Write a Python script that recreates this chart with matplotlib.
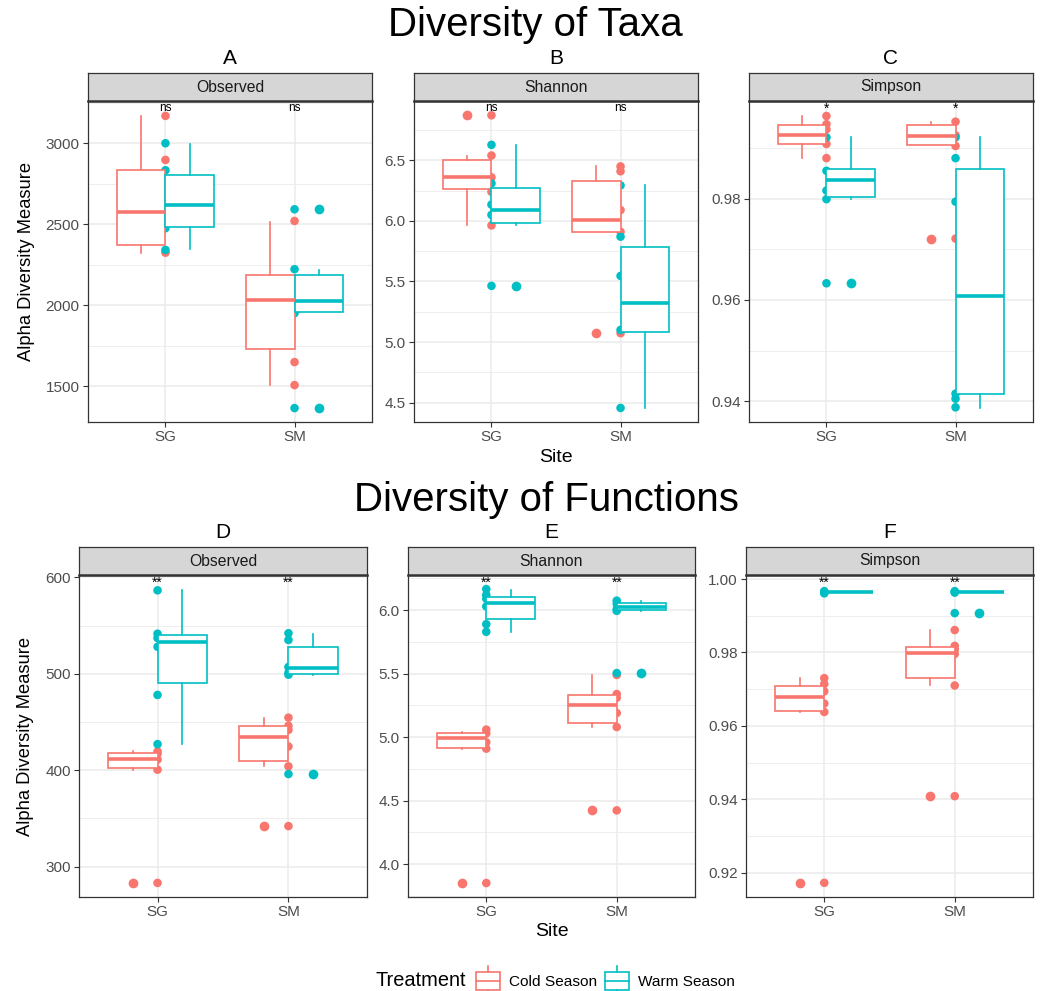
import matplotlib
matplotlib.use("Agg")
import matplotlib.pyplot as plt
from matplotlib.patches import Rectangle, Patch
from matplotlib.lines import Line2D
from matplotlib.legend_handler import HandlerBase
from matplotlib.ticker import MultipleLocator, FormatStrFormatter
import matplotlib.transforms as mtransforms

plt.rcParams['font.family'] = ['Liberation Sans', 'DejaVu Sans']

sites = ["SG", "SM"]
treatments = ["Cold Season", "Warm Season"]
colors = ["#F8766D", "#00BFC4"]

# ---- box stats per site: (q1, median, q3, whisker_low, whisker_high) ----
# Panel A: Observed (taxa)
a_cold_stats = [(2374, 2578, 2833, 2324, 3169), (1731, 2034, 2186, 1506, 2516)]
a_warm_stats = [(2485, 2617, 2802, 2345, 2996), (1955, 2023, 2186, 1955, 2217)]
a_cold_fliers = [[], []]
a_warm_fliers = [[], [2592, 1364]]
a_cold_points = [[3169, 2897, 2324], [2520, 1648, 1506]]
a_warm_points = [[3000, 2833, 2475, 2341], [2592, 2222, 1950, 1364]]

# Panel B: Shannon (taxa)
b_cold_stats = [(6.263, 6.36, 6.505, 5.963, 6.54), (5.908, 6.004, 6.329, 5.908, 6.45)]
b_warm_stats = [(5.985, 6.092, 6.274, 5.97, 6.624), (5.079, 5.324, 5.786, 4.456, 6.293)]
b_cold_fliers = [[6.872], [5.073]]
b_warm_fliers = [[5.464], []]
b_cold_points = [[6.872, 6.54, 6.36, 6.24, 5.963], [6.45, 6.41, 6.09, 5.91, 5.073]]
b_warm_points = [[6.628, 6.31, 6.135, 6.05, 5.464], [6.293, 5.87, 5.546, 5.10, 4.456]]

# Panel C: Simpson (taxa)
c_cold_stats = [(0.99086, 0.9925, 0.99461, 0.9880, 0.99632), (0.99059, 0.99243, 0.99447, 0.9905, 0.9952)]
c_warm_stats = [(0.98026, 0.98362, 0.98579, 0.9799, 0.99217), (0.94151, 0.96079, 0.98586, 0.93875, 0.99217)]
c_cold_fliers = [[], [0.97211]]
c_warm_fliers = [[0.96329], []]
c_cold_points = [[0.99632, 0.9947, 0.9937, 0.9908, 0.9880], [0.9952, 0.9925, 0.9904, 0.97211]]
c_warm_points = [[0.9921, 0.9855, 0.9816, 0.9799, 0.96329], [0.9921, 0.9880, 0.9794, 0.9415, 0.9405, 0.9388]]

# Panel D: Observed (functions)
d_cold_stats = [(402.6, 411.9, 417.5, 400.5, 419.5), (409.1, 434.8, 446.2, 404, 454.5)]
d_warm_stats = [(490.2, 532.8, 539.7, 427.5, 586.5), (500.2, 505.8, 528, 499.2, 541.1)]
d_cold_fliers = [[283.1], [342]]
d_warm_fliers = [[], [396]]
d_cold_points = [[419.5, 417, 411, 400.5, 283.1], [454.5, 446, 441.8, 424.6, 404, 342]]
d_warm_points = [[586.5, 541.5, 537, 528, 478, 427], [542, 535, 507, 501, 499, 396]]

# Panel E: Shannon (functions)
e_cold_stats = [(4.917, 4.996, 5.033, 4.906, 5.043), (5.109, 5.254, 5.331, 5.083, 5.489)]
e_warm_stats = [(5.929, 6.053, 6.105, 5.831, 6.161), (6.0, 6.029, 6.058, 5.995, 6.071)]
e_cold_fliers = [[3.852], [4.424]]
e_warm_fliers = [[], [5.505]]
e_cold_points = [[5.06, 5.03, 4.96, 4.91, 3.852], [5.49, 5.34, 5.31, 5.19, 5.08, 4.424]]
e_warm_points = [[6.166, 6.12, 6.09, 6.03, 5.89, 5.83], [6.075, 6.05, 6.01, 5.995, 5.505]]

# Panel F: Simpson (functions)
f_cold_stats = [(0.96419, 0.96774, 0.97084, 0.96383, 0.97303), (0.97303, 0.97986, 0.98141, 0.97102, 0.98606)]
f_warm_stats = [(0.99648, 0.99654, 0.9966, 0.99648, 0.9966), (0.99648, 0.99654, 0.9966, 0.99648, 0.9966)]
f_cold_fliers = [[0.91726], [0.94086]]
f_warm_fliers = [[], [0.99071]]
f_cold_points = [[0.9730, 0.9714, 0.9694, 0.9661, 0.9638, 0.91726], [0.9861, 0.9818, 0.9808, 0.9796, 0.9710, 0.94086]]
f_warm_points = [[0.9967, 0.9965, 0.9963, 0.9961], [0.9967, 0.9965, 0.9963, 0.99071]]

panel_letters = ["A", "B", "C", "D", "E", "F"]
metrics = ["Observed", "Shannon", "Simpson", "Observed", "Shannon", "Simpson"]
signif = ["ns", "ns", "*", "**", "**", "**"]
row_titles = ["Diversity of Taxa", "Diversity of Functions"]

FW, FH = 1047, 991
fig = plt.figure(figsize=(FW / 100, FH / 100), dpi=100)


def rect(l, t, r, b):
    return [l / FW, 1 - b / FH, (r - l) / FW, (b - t) / FH]


panel_px = [
    (88, 101, 372, 422), (414, 101, 698, 422), (749, 101, 1033, 422),
    (79, 575, 367, 897), (408, 575, 695, 897), (746, 575, 1033, 897),
]
strip_h = 28
ylims = [(1278, 3261), (4.34, 6.99), (0.9359, 0.99928),
         (268.5, 602.4), (3.742, 6.277), (0.9134, 1.0011)]
major_steps = [500, 0.5, 0.02, 100, 0.5, 0.02]
fmts = ["%d", "%.1f", "%.2f", "%d", "%.1f", "%.2f"]

all_stats = [(a_cold_stats, a_warm_stats), (b_cold_stats, b_warm_stats), (c_cold_stats, c_warm_stats),
             (d_cold_stats, d_warm_stats), (e_cold_stats, e_warm_stats), (f_cold_stats, f_warm_stats)]
all_fliers = [(a_cold_fliers, a_warm_fliers), (b_cold_fliers, b_warm_fliers), (c_cold_fliers, c_warm_fliers),
              (d_cold_fliers, d_warm_fliers), (e_cold_fliers, e_warm_fliers), (f_cold_fliers, f_warm_fliers)]
all_points = [(a_cold_points, a_warm_points), (b_cold_points, b_warm_points), (c_cold_points, c_warm_points),
              (d_cold_points, d_warm_points), (e_cold_points, e_warm_points), (f_cold_points, f_warm_points)]

GRID = "#EBEBEB"
DARK = "#333333"
TICKC = "#4D4D4D"

for i in range(6):
    l, t, r, b = panel_px[i]
    ax = fig.add_axes(rect(l, t, r, b))
    xpos = [1, 2]
    ax.set_xlim(0.4, 2.6)
    ax.set_ylim(*ylims[i])
    ax.yaxis.set_major_locator(MultipleLocator(major_steps[i]))
    ax.yaxis.set_minor_locator(MultipleLocator(major_steps[i] / 2))
    ax.yaxis.set_major_formatter(FormatStrFormatter(fmts[i]))
    ax.set_xticks(xpos)
    ax.set_xticklabels(sites)
    ax.set_axisbelow(True)
    ax.grid(True, which='major', color=GRID, lw=1.1)
    ax.grid(True, which='minor', axis='y', color=GRID, lw=0.6)
    ax.tick_params(which='minor', length=0)
    ax.tick_params(which='major', length=3.5, width=0.8, color=DARK, labelcolor=TICKC,
                   labelsize=11, pad=2.5)
    for sp in ax.spines.values():
        sp.set_color(DARK)
        sp.set_linewidth(0.9)

    # points at site centers
    for k in range(2):
        pts = all_points[i][k]
        for j in range(2):
            ax.scatter([xpos[j]] * len(pts[j]), pts[j], s=38, color=colors[k],
                       edgecolors='none', zorder=2)

    # dodged boxes
    for k in range(2):
        st = all_stats[i][k]
        fl = all_fliers[i][k]
        bstats = []
        for j in range(2):
            q1, med, q3, lo, hi = st[j]
            bstats.append(dict(q1=q1, med=med, q3=q3, whislo=lo, whishi=hi, fliers=fl[j]))
        off = -0.1875 if k == 0 else 0.1875
        c = colors[k]
        ax.bxp(bstats, positions=[p + off for p in xpos], widths=0.375, patch_artist=True,
               showcaps=False, manage_ticks=False,
               boxprops=dict(facecolor='white', edgecolor=c, lw=1.2),
               whiskerprops=dict(color=c, lw=1.2),
               medianprops=dict(color=c, lw=2.6, solid_capstyle='butt'),
               flierprops=dict(marker='o', markerfacecolor=c, markeredgecolor='none',
                               markersize=7),
               zorder=3)

    # significance labels
    trans = mtransforms.blended_transform_factory(ax.transData, ax.transAxes)
    for j in range(2):
        ax.text(xpos[j], 0.997, signif[i], transform=trans, ha='center', va='top',
                fontsize=8.5 if signif[i] == "ns" else 10, color='black', zorder=5)

    # strip
    sax = fig.add_axes(rect(l, t - strip_h, r, t))
    sax.set_facecolor("#D6D6D6")
    sax.set_xticks([])
    sax.set_yticks([])
    for sp in sax.spines.values():
        sp.set_color(DARK)
        sp.set_linewidth(0.9)
    sax.spines['bottom'].set_linewidth(1.8)
    sax.text(0.5, 0.5, metrics[i], ha='center', va='center', fontsize=11.3, color='#1A1A1A',
             transform=sax.transAxes)

    # panel letter
    fig.text((l + r) / 2 / FW, 1 - (t - strip_h - 14) / FH, panel_letters[i],
             ha='center', va='center', fontsize=15)

    if i in (0, 3):
        ax.set_ylabel("Alpha Diversity Measure", fontsize=13.2, labelpad=8)
    if i in (1, 4):
        ax.set_xlabel("Site", fontsize=14, labelpad=3)

fig.text(535 / FW, 1 - 25 / FH, row_titles[0], ha='center', va='center', fontsize=29)
fig.text(546 / FW, 1 - 500 / FH, row_titles[1], ha='center', va='center', fontsize=29)


class BoxHandler(HandlerBase):
    def create_artists(self, legend, orig_handle, xdescent, ydescent, width, height,
                       fontsize, trans):
        c = orig_handle.get_edgecolor()
        x0, y0 = -xdescent, -ydescent
        lo, hi = 0.17, 0.83
        r = Rectangle((x0, y0 + lo * height), width, (hi - lo) * height, facecolor='white',
                      edgecolor=c, lw=1.2, transform=trans)
        m = Line2D([x0, x0 + width], [y0 + 0.5 * height] * 2, color=c, lw=1.2, transform=trans)
        w1 = Line2D([x0 + width / 2] * 2, [y0 - 0.1 * height, y0 + lo * height], color=c, lw=1.2,
                    transform=trans)
        w2 = Line2D([x0 + width / 2] * 2, [y0 + hi * height, y0 + 1.1 * height], color=c, lw=1.2,
                    transform=trans)
        return [r, m, w1, w2]


handles = [Patch(edgecolor=colors[k], facecolor='white') for k in range(2)]
fig.text(375 / FW, 1 - 981 / FH, "Treatment", ha='left', va='center', fontsize=14.4)
fig.legend(handles, treatments, loc='center left', bbox_to_anchor=(474 / FW, 1 - 981 / FH),
           ncol=2, frameon=False, fontsize=11.1, handlelength=1.6, handleheight=2.2,
           handletextpad=0.55, columnspacing=0.5, borderpad=0.1, borderaxespad=0.0,
           handler_map={Patch: BoxHandler()})

fig.savefig("out.png", dpi=100)
